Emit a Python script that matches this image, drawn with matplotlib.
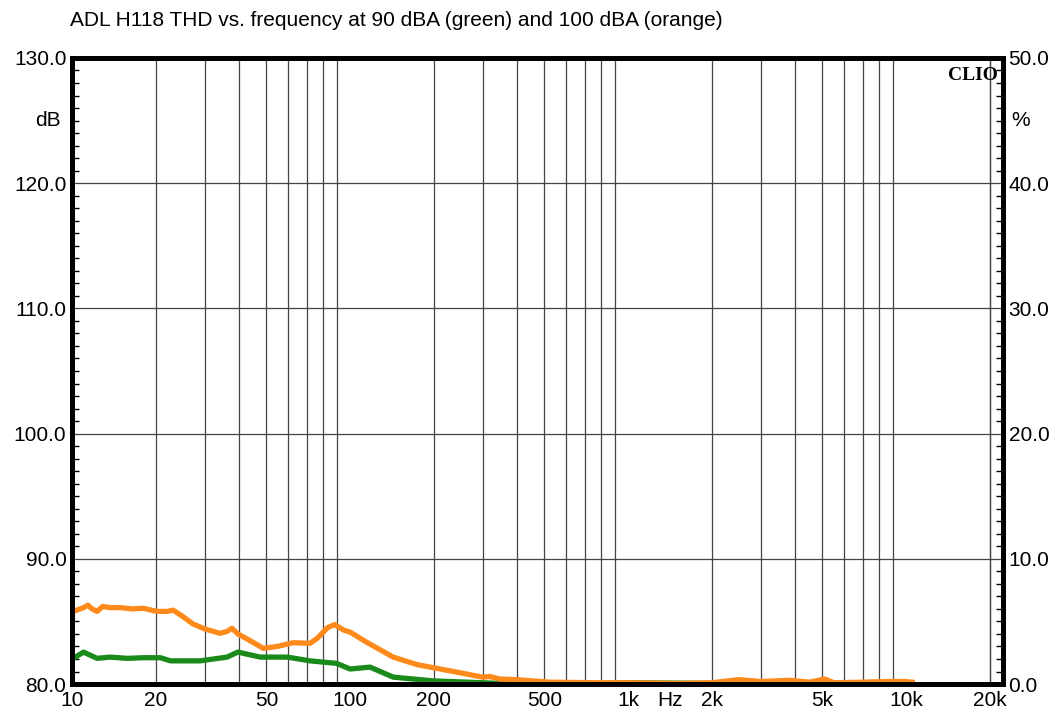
import numpy as np
import matplotlib.pyplot as plt
from matplotlib.ticker import FixedLocator, MultipleLocator, NullFormatter

plt.rcParams['font.family'] = ['Liberation Sans', 'DejaVu Sans']

# THD at 100 dBA (orange)
f_orange = [10.1, 11.0, 11.4, 11.8, 12.3, 12.9, 13.7, 14.9, 16.5, 18.0, 20.2, 22.0, 23.1,
            25.0, 27.2, 30.0, 34.1, 36.1, 37.6, 39.5, 42.6, 47.5, 48.7, 54.7, 62.4, 71.8,
            76.2, 83.0, 88.0, 95.0, 100, 114.5, 143, 174, 229, 300, 318, 345, 396, 523,
            790, 1000, 1500, 2000, 2500, 3000, 3800, 4500, 5100, 5500, 7000, 8500, 10000, 10500]
thd_orange = [85.8, 86.1, 86.3, 86.0, 85.8, 86.2, 86.1, 86.1, 86.0, 86.05, 85.8, 85.8, 85.9,
              85.4, 84.8, 84.4, 84.05, 84.2, 84.45, 84.0, 83.6, 83.0, 82.85, 83.0, 83.3, 83.25,
              83.65, 84.5, 84.75, 84.3, 84.15, 83.35, 82.15, 81.55, 81.05, 80.55, 80.6, 80.4, 80.35, 80.15,
              80.1, 80.1, 80.05, 80.1, 80.35, 80.2, 80.3, 80.15, 80.4, 80.1, 80.15, 80.2, 80.2, 80.15]

# THD at 90 dBA (green)
f_green = [10.1, 11.0, 12.3, 13.7, 15.8, 18.0, 20.8, 22.6, 28.9, 36.1, 39.5, 47.5, 59.4,
           71.8, 89.4, 100, 118, 143, 199, 263, 345, 500, 800, 1000, 2000, 5000, 10500]
thd_green = [82.05, 82.55, 82.05, 82.15, 82.05, 82.1, 82.1, 81.85, 81.85, 82.15, 82.55, 82.15, 82.15,
             81.85, 81.65, 81.2, 81.35, 80.55, 80.25, 80.15, 80.05, 80.1, 80.05, 80.1, 80.05, 80.05, 80.1]

xtick_vals = [10, 20, 50, 100, 200, 500, 1000, 2000, 5000, 10000, 20000]
xtick_labels = ['10', '20', '50', '100', '200', '500', '1k', '2k', '5k', '10k', '20k']

fig = plt.figure(figsize=(10.61, 7.22), dpi=100)
ax = fig.add_axes([0.0679, 0.0526, 0.8774, 0.8671])

grid_x = [m * 10 ** d for d in range(1, 5) for m in range(2, 10)] + [20000]
for g in grid_x:
    ax.axvline(g, color='#444444', lw=0.9, zorder=1)
for g in [90, 100, 110, 120]:
    ax.axhline(g, color='#444444', lw=0.9, zorder=1)

ax.plot(f_green, thd_green, color='#1a8a1a', lw=3.8, zorder=3)
ax.plot(f_orange, thd_orange, color='#ff8a1c', lw=3.8, zorder=4)

ax.set_xscale('log')
ax.set_xlim(10, 22300)
ax.set_ylim(80, 130)
ax.xaxis.set_major_locator(FixedLocator(xtick_vals))
ax.set_xticklabels(xtick_labels)
ax.xaxis.set_minor_formatter(NullFormatter())
ax.tick_params(axis='x', which='both', length=0, labelsize=15, pad=5)

ax.set_yticks([80, 90, 100, 110, 120, 130])
ax.set_yticklabels(['80.0', '90.0', '100.0', '110.0', '120.0', '130.0'])
ax.yaxis.set_minor_locator(MultipleLocator(1))
ax.tick_params(axis='y', which='major', length=0, labelsize=15, pad=4)
ax.tick_params(axis='y', which='minor', direction='in', length=5, width=1)

for s in ax.spines.values():
    s.set_linewidth(3.5)
    s.set_zorder(5)

ax2 = ax.twinx()
ax2.set_ylim(0, 50)
ax2.set_yticks([0, 10, 20, 30, 40, 50])
ax2.set_yticklabels(['0.0', '10.0', '20.0', '30.0', '40.0', '50.0'])
ax2.yaxis.set_minor_locator(MultipleLocator(1))
ax2.tick_params(axis='y', which='major', length=0, labelsize=15, pad=4)
ax2.tick_params(axis='y', which='minor', direction='in', length=5, width=1)
for s in ax2.spines.values():
    s.set_linewidth(3.5)

fig.text(48 / 1061, 1 - 120 / 722, 'dB', fontsize=15, ha='center', va='center')
fig.text(1021 / 1061, 1 - 120 / 722, '%', fontsize=15, ha='center', va='center')
# Hz sits on the same line as the x tick labels
ax.annotate('Hz', xy=(1420, 0), xycoords=('data', 'axes fraction'),
            xytext=(0, -5), textcoords='offset points', ha='center', va='top', fontsize=15)
fig.text(70 / 1061, 1 - 20 / 722, 'ADL H118 THD vs. frequency at 90 dBA (green) and 100 dBA (orange)',
         fontsize=15, ha='left', va='center')
ax.text(0.995, 0.985, 'CLIO', transform=ax.transAxes, ha='right', va='top',
        fontsize=14, fontweight='bold', family='Liberation Serif', zorder=6)

fig.savefig('out.png', dpi=100)
